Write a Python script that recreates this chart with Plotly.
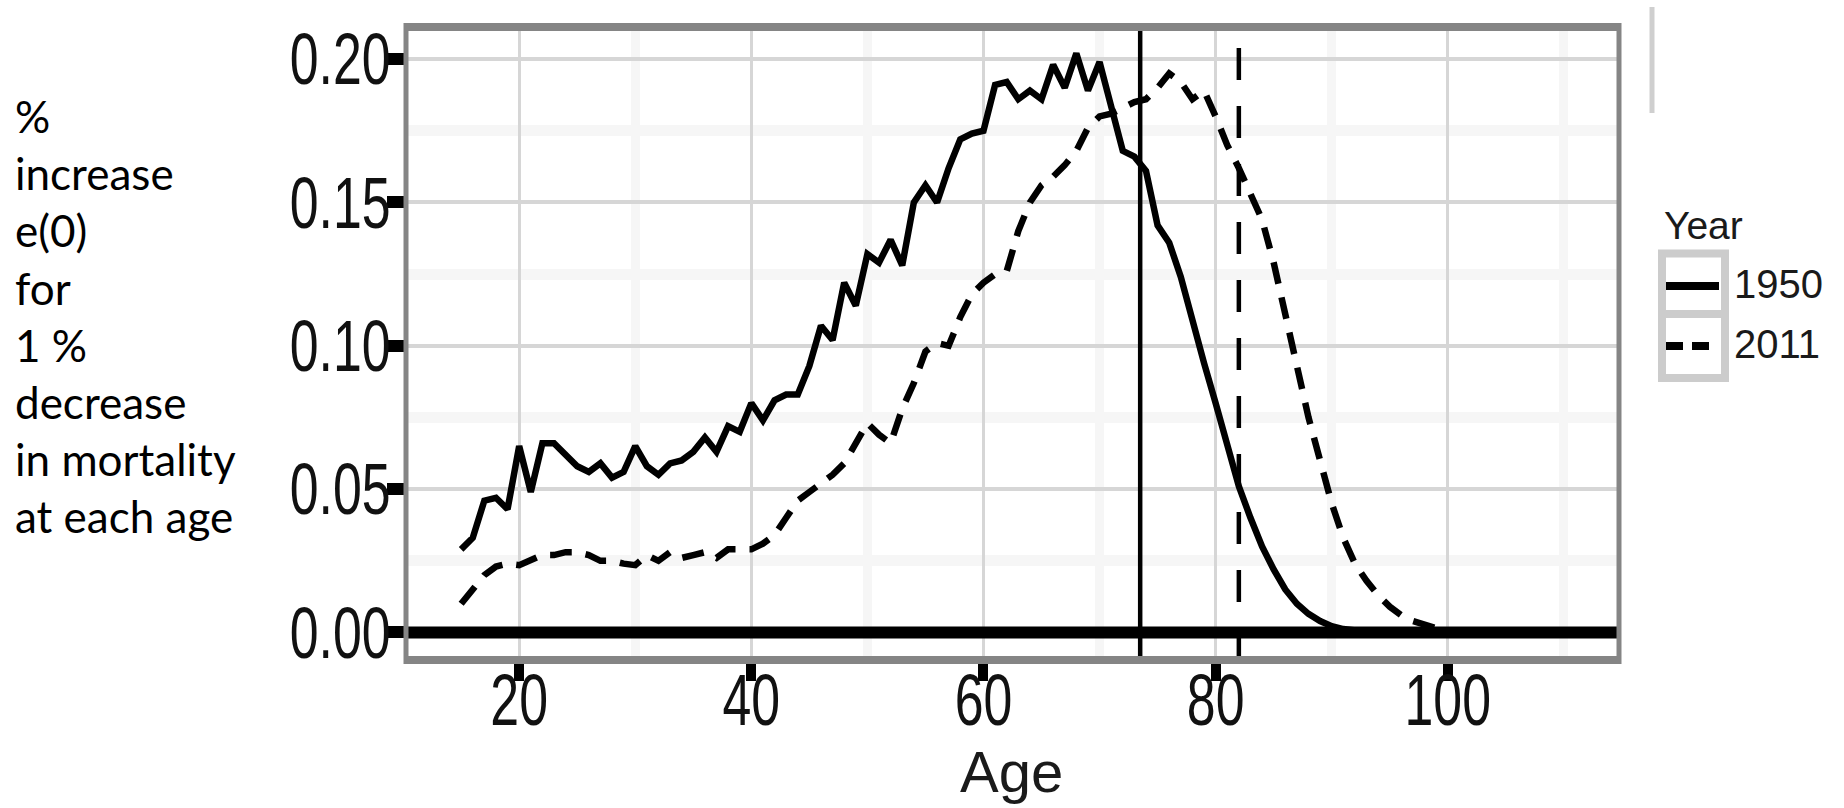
import plotly.graph_objects as go

# ---------------- data ----------------
ages = list(range(15, 111))
sens_1950 = [
    0.029, 0.033, 0.046, 0.047, 0.043, 0.065, 0.049, 0.066, 0.066, 0.062,   # 15-24
    0.058, 0.056, 0.059, 0.054, 0.056, 0.065, 0.058, 0.055, 0.059, 0.060,   # 25-34
    0.063, 0.068, 0.063, 0.072, 0.070, 0.080, 0.074, 0.081, 0.083, 0.083,   # 35-44
    0.093, 0.107, 0.102, 0.122, 0.114, 0.132, 0.129, 0.137, 0.128, 0.150,   # 45-54
    0.156, 0.150, 0.162, 0.172, 0.174, 0.175, 0.191, 0.192, 0.186, 0.189,   # 55-64
    0.186, 0.198, 0.190, 0.202, 0.189, 0.199, 0.183, 0.168, 0.166, 0.161,   # 65-74
    0.142, 0.136, 0.124, 0.108, 0.094, 0.080, 0.065, 0.051, 0.040, 0.030,   # 75-84
    0.022, 0.015, 0.010, 0.0065, 0.004, 0.0022, 0.0012, 0.0006, 0.0003, 0.0002,  # 85-94
    0.0001, 0.0, 0.0, 0.0, 0.0, 0.0, 0.0, 0.0, 0.0, 0.0,                    # 95-104
    0.0, 0.0, 0.0, 0.0, 0.0, 0.0,                                            # 105-110
]
sens_2011 = [
    0.010, 0.015, 0.020, 0.023, 0.024, 0.0235, 0.025, 0.027, 0.027, 0.028,  # 15-24
    0.028, 0.027, 0.025, 0.025, 0.024, 0.0235, 0.027, 0.025, 0.028, 0.026,  # 25-34
    0.027, 0.028, 0.026, 0.029, 0.029, 0.029, 0.031, 0.034, 0.040, 0.046,   # 35-44
    0.049, 0.052, 0.055, 0.059, 0.066, 0.073, 0.069, 0.066, 0.078, 0.087,   # 45-54
    0.098, 0.101, 0.100, 0.110, 0.118, 0.122, 0.125, 0.126, 0.140, 0.150,   # 55-64
    0.156, 0.159, 0.163, 0.168, 0.176, 0.180, 0.181, 0.183, 0.185, 0.186,   # 65-74
    0.190, 0.195, 0.192, 0.186, 0.189, 0.180, 0.170, 0.162, 0.153, 0.144,   # 75-84
    0.129, 0.112, 0.093, 0.075, 0.060, 0.045, 0.033, 0.024, 0.018, 0.013,   # 85-94
    0.009, 0.006, 0.004, 0.0025, 0.0015, 0.0008, 0.0004, 0.0002, 0.0001, 0.0,  # 95-104
    0.0, 0.0, 0.0, 0.0, 0.0, 0.0,                                            # 105-110
]
years = ["1950", "2011"]
life_expectancy = {"1950": 73.5, "2011": 82.0}   # vertical reference lines
x_ticks = [20, 40, 60, 80, 100]
y_ticks = [0.00, 0.05, 0.10, 0.15, 0.20]
y_title_lines = ["%", "increase", "e(0)", "for", "1 %", "decrease", "in mortality", "at each age"]

# ---------------- styles ----------------
styles = {
    "1950": dict(color="black", width=6.5, dash="solid"),
    "2011": dict(color="black", width=6.5, dash="22px,14px"),
}
vline_dash = {"1950": "solid", "2011": "32px,26px"}

W_PX, H_PX = 1844, 808
L, R, T, B = 406, 1619, 27, 660
PW, PH = R - L, B - T


def fx(p):
    return (p - L) / PW


def fy(p):
    return (B - p) / PH


SANS = "Liberation Sans, Arial, sans-serif"

fig = go.Figure()
for yr, vals in zip(years, [sens_1950, sens_2011]):
    fig.add_trace(go.Scatter(x=ages, y=vals, mode="lines", name=yr,
                             line=styles[yr], showlegend=False))

shapes = []
# horizontal reference at 0
shapes.append(dict(type="line", xref="paper", yref="y", x0=0, x1=1, y0=0, y1=0,
                   line=dict(color="black", width=12), layer="above"))
# vertical lines at life expectancy
for yr in years:
    e0 = life_expectancy[yr]
    shapes.append(dict(type="line", xref="x", yref="paper", x0=e0, x1=e0, y0=0, y1=1,
                       line=dict(color="black", width=4.5, dash=vline_dash[yr]), layer="above"))
# panel border
bc = "#858585"
shapes += [
    dict(type="line", xref="paper", yref="paper", x0=0, x1=0, y0=fy(B + 4), y1=fy(T - 4),
         line=dict(color=bc, width=5), layer="above"),
    dict(type="line", xref="paper", yref="paper", x0=1, x1=1, y0=fy(B + 4), y1=fy(T - 4),
         line=dict(color=bc, width=5), layer="above"),
    dict(type="line", xref="paper", yref="paper", x0=fx(L - 2), x1=fx(R + 2), y0=1, y1=1,
         line=dict(color=bc, width=8), layer="above"),
    dict(type="line", xref="paper", yref="paper", x0=fx(L - 2), x1=fx(R + 2), y0=0, y1=0,
         line=dict(color=bc, width=8), layer="above"),
]
# stray grey bar at top right (from neighbouring panel)
shapes.append(dict(type="line", xref="paper", yref="paper", x0=fx(1652), x1=fx(1652),
                   y0=fy(7), y1=fy(113), line=dict(color="#cfcfcf", width=5)))

# manual legend (ggplot-style key boxes)
kc = "#cccccc"
shapes.append(dict(type="rect", xref="paper", yref="paper", x0=fx(1662), x1=fx(1725),
                   y0=fy(378), y1=fy(253.5), line=dict(color=kc, width=8), fillcolor="white"))
shapes.append(dict(type="line", xref="paper", yref="paper", x0=fx(1662), x1=fx(1725),
                   y0=fy(314), y1=fy(314), line=dict(color=kc, width=8)))
key_y = {"1950": 286, "2011": 346}
for yr in years:
    st = styles[yr]
    dash = st["dash"] if st["dash"] == "solid" else "17px,9px"
    shapes.append(dict(type="line", xref="paper", yref="paper", x0=fx(1666),
                       x1=fx(1719 if yr == "1950" else 1709),
                       y0=fy(key_y[yr]), y1=fy(key_y[yr]),
                       line=dict(color=st["color"], width=8, dash=dash)))

annotations = [
    dict(text="<br>".join(y_title_lines), xref="paper", yref="paper",
         x=fx(13), y=fy(88), xanchor="left", yanchor="top", align="left",
         showarrow=False, font=dict(family="Lato, Open Sans, sans-serif", size=44, color="black")),
    dict(text="Age", xref="paper", yref="paper", x=fx(1011), y=fy(771),
         xanchor="center", yanchor="middle", showarrow=False,
         font=dict(family=SANS, size=58, color="#1a1a1a")),
    dict(text="Year", xref="paper", yref="paper", x=fx(1662), y=fy(225),
         xanchor="left", yanchor="middle", showarrow=False,
         font=dict(family=SANS, size=39, color="#1a1a1a")),
]
for yr in years:
    annotations.append(dict(text=yr, xref="paper", yref="paper", x=fx(1732), y=fy(key_y[yr] - 2),
                            xanchor="left", yanchor="middle", showarrow=False,
                            font=dict(family=SANS, size=40, color="#1a1a1a")))

fig.update_layout(
    width=W_PX, height=H_PX,
    margin=dict(l=L, r=W_PX - R, t=T, b=H_PX - B, pad=0),
    paper_bgcolor="white", plot_bgcolor="white",
    shapes=shapes, annotations=annotations, showlegend=False,
    xaxis=dict(range=[10.25, 114.75], tickvals=x_ticks, ticktext=[str(v) for v in x_ticks],
               showgrid=True, gridcolor="#d6d6d6", gridwidth=3, zeroline=False, showline=False,
               ticks="outside", ticklen=20, tickwidth=10, tickcolor="black",
               ticklabelstandoff=-42,
               tickfont=dict(family=SANS, size=72, color="#111111"),
               minor=dict(tickvals=[10, 30, 50, 70, 90, 110], showgrid=True,
                          gridcolor="#f6f6f6", gridwidth=9, ticks="")),
    yaxis=dict(range=[-0.0096, 0.2112], tickvals=y_ticks, ticktext=[f"{v:.2f}" for v in y_ticks],
               showgrid=True, gridcolor="#d6d6d6", gridwidth=4, zeroline=False, showline=False,
               ticks="outside", ticklen=18, tickwidth=12, tickcolor="black",
               ticklabelstandoff=-10,
               tickfont=dict(family=SANS, size=72, color="#111111"),
               minor=dict(tickvals=[0.025, 0.075, 0.125, 0.175], showgrid=True,
                          gridcolor="#f6f6f6", gridwidth=11, ticks="")),
)

# condense the tick labels horizontally (reference uses a narrow face)
post = """
document.body.style.margin='0';
document.body.style.overflow='hidden';
var gd = document.querySelector('.plotly-graph-div');
gd.querySelectorAll('.xtick text, .ytick text').forEach(function(t){
  var x = parseFloat(t.getAttribute('x')) || 0;
  var tr = t.getAttribute('transform') || '';
  var shift = t.closest('.ytick') ? 8 : 0;
  t.setAttribute('transform', tr + ' translate(' + (x + shift) + ',0) scale(0.72,1) translate(' + (-x) + ',0)');
});
"""

fig.write_html("out.html", post_script=post,
               config={"displayModeBar": False, "responsive": False})
